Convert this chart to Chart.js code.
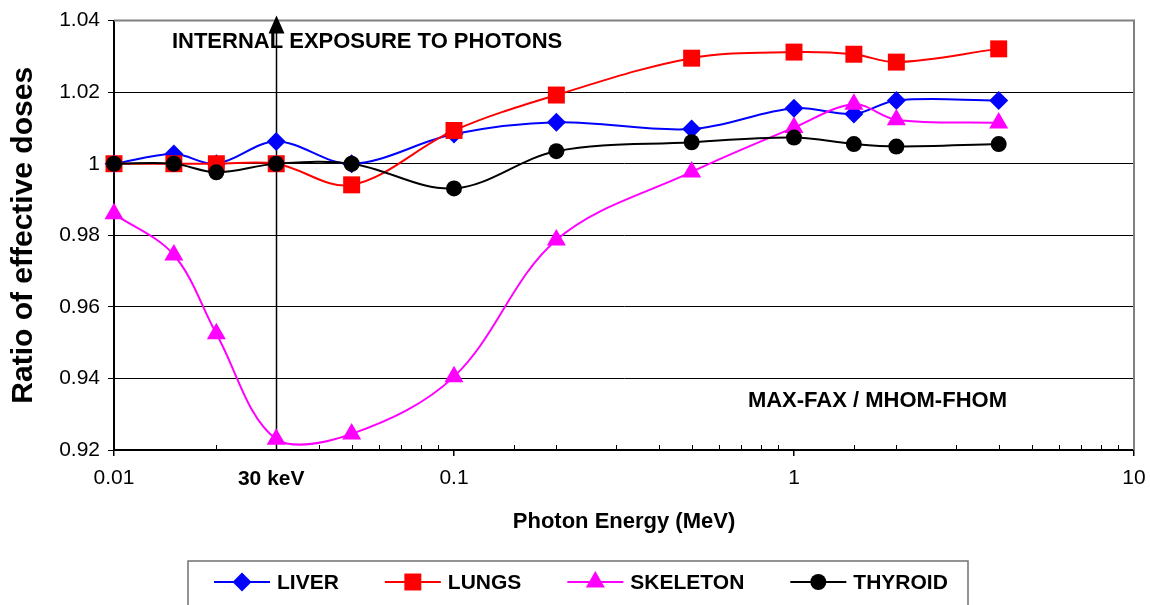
<!DOCTYPE html>
<html>
<head>
<meta charset="utf-8">
<title>Ratio of effective doses</title>
<script src="https://cdn.jsdelivr.net/npm/chart.js@4.4.0/dist/chart.umd.min.js"></script>
<style>
  html, body { margin: 0; padding: 0; background: #fff; }
</style>
</head>
<body>
<canvas id="chart" width="1150" height="605"></canvas>
<script>
// photon energies (MeV) and dose ratios MAX-FAX / MHOM-FHOM
const energies = [0.01, 0.015, 0.02, 0.03, 0.05, 0.1, 0.2, 0.5, 1, 1.5, 2, 4];
const liver    = [1.000, 1.0027, 1.000, 1.0062, 1.000, 1.0083, 1.0116, 1.0097, 1.0155, 1.0139, 1.0177, 1.0177];
const lungs    = [1.000, 1.000, 1.000, 1.000, 0.9941, 1.0093, 1.0192, 1.0295, 1.0312, 1.0306, 1.0284, 1.0321];
const skeleton = [0.986, 0.9745, 0.9525, 0.923, 0.9245, 0.9405, 0.9787, 0.9977, 1.0101, 1.0166, 1.0123, 1.0114];
const thyroid  = [1.000, 1.000, 0.9976, 1.000, 1.000, 0.9931, 1.0035, 1.006, 1.0073, 1.0055, 1.0048, 1.0055];

const seriesNames = ['LIVER', 'LUNGS', 'SKELETON', 'THYROID'];
const yTicks = [0.92, 0.94, 0.96, 0.98, 1, 1.02, 1.04];
const xLabels = [0.01, 0.1, 1, 10];
const markerEnergy = 0.03;

const FONT = "'Liberation Sans', Arial, Helvetica, sans-serif";

const styles = [
    { color: '#0000ff', pointStyle: 'rectRot', radius: 9.5 },
    { color: '#ff0000', pointStyle: 'rect', radius: 12 },
    { color: '#ff00ff', pointStyle: 'triangle', radius: 11 },
    { color: '#000000', pointStyle: 'circle', radius: 8 }
];

const isDecade = v => Math.abs(Math.log10(v) - Math.round(Math.log10(v))) < 1e-6;

function makeDataset(name, values, i) {
    const s = styles[i];
    return {
        label: name,
        data: energies.map((e, k) => ({ x: e, y: values[k] })),
        borderColor: s.color,
        backgroundColor: s.color,
        borderWidth: 2,
        pointStyle: s.pointStyle,
        pointRadius: s.radius,
        pointHoverRadius: s.radius,
        pointBorderWidth: 0,
        tension: 0.35,
        clip: false,
        order: 3 - i
    };
}

// vertical 30 keV marker, frame, minor ticks, texts and legend box
const decorPlugin = {
    id: 'decor',
    beforeDatasetsDraw(chart) {
        const { ctx, chartArea: a, scales: { x } } = chart;
        ctx.save();
        // top and right frame
        ctx.strokeStyle = '#808080';
        ctx.lineWidth = 2;
        ctx.beginPath();
        ctx.moveTo(a.left, a.top);
        ctx.lineTo(a.right, a.top);
        ctx.lineTo(a.right, a.bottom);
        ctx.stroke();
        // minor ticks inside the plot
        ctx.strokeStyle = '#000';
        ctx.lineWidth = 1;
        x.ticks.forEach(t => {
            if (isDecade(t.value)) return;
            const px = Math.round(x.getPixelForValue(t.value)) + 0.5;
            ctx.beginPath();
            ctx.moveTo(px, a.bottom);
            ctx.lineTo(px, a.bottom - 5);
            ctx.stroke();
        });
        // arrow at 30 keV
        const ax = Math.round(x.getPixelForValue(markerEnergy)) + 0.5;
        ctx.lineWidth = 1.5;
        ctx.beginPath();
        ctx.moveTo(ax, a.bottom);
        ctx.lineTo(ax, a.top + 12);
        ctx.stroke();
        ctx.fillStyle = '#000';
        ctx.beginPath();
        ctx.moveTo(ax, a.top - 5);
        ctx.lineTo(ax - 8, a.top + 13);
        ctx.lineTo(ax + 8, a.top + 13);
        ctx.closePath();
        ctx.fill();
        ctx.restore();
    },
    afterDraw(chart) {
        const { ctx, chartArea: a, scales: { x, y } } = chart;
        ctx.save();
        ctx.fillStyle = '#000';
        ctx.textBaseline = 'middle';

        ctx.font = 'bold 22px ' + FONT;
        ctx.textAlign = 'left';
        ctx.fillText('INTERNAL EXPOSURE TO PHOTONS', x.getPixelForValue(0.0148), y.getPixelForValue(1.034));
        ctx.textAlign = 'right';
        ctx.fillText('MAX-FAX / MHOM-FHOM', x.getPixelForValue(4.23), y.getPixelForValue(0.9338));

        ctx.font = 'bold 21px ' + FONT;
        ctx.textAlign = 'center';
        ctx.fillText('30 keV', x.getPixelForValue(markerEnergy) - 5, a.bottom + 29);

        // legend
        const boxLeft = 188, boxTop = 561, boxWidth = 780;
        ctx.strokeStyle = '#707070';
        ctx.lineWidth = 1.5;
        ctx.strokeRect(boxLeft, boxTop, boxWidth, 60);
        ctx.font = 'bold 21px ' + FONT;
        ctx.textAlign = 'left';
        const ly = boxTop + 21;
        let lx = boxLeft + 26;
        seriesNames.forEach((name, i) => {
            const s = styles[i];
            ctx.strokeStyle = s.color;
            ctx.fillStyle = s.color;
            ctx.lineWidth = 2;
            ctx.beginPath();
            ctx.moveTo(lx, ly);
            ctx.lineTo(lx + 56, ly);
            ctx.stroke();
            Chart.helpers.drawPoint(ctx, { pointStyle: s.pointStyle, radius: s.radius, rotation: 0, borderWidth: 0 }, lx + 28, ly);
            ctx.fillStyle = '#000';
            ctx.fillText(name, lx + 63, ly + 1);
            lx += 63 + ctx.measureText(name).width + 46;
        });
        ctx.restore();
    }
};

const chart = new Chart(document.getElementById('chart'), {
    type: 'line',
    data: {
        datasets: [
            makeDataset(seriesNames[0], liver, 0),
            makeDataset(seriesNames[1], lungs, 1),
            makeDataset(seriesNames[2], skeleton, 2),
            makeDataset(seriesNames[3], thyroid, 3)
        ]
    },
    options: {
        responsive: false,
        animation: false,
        devicePixelRatio: 1,
        layout: { padding: { left: 0, right: 16, top: 20, bottom: 65 } },
        plugins: {
            legend: { display: false },
            tooltip: { enabled: false }
        },
        scales: {
            x: {
                type: 'logarithmic',
                min: 0.01,
                max: 10,
                afterFit: s => { s.height = 90; s.paddingRight = 0; s.paddingLeft = 0; },
                grid: {
                    drawOnChartArea: false,
                    tickLength: 6,
                    lineWidth: 1.5,
                    color: c => (c.tick && isDecade(c.tick.value)) ? '#000' : 'rgba(0,0,0,0)'
                },
                border: { color: '#000', width: 2 },
                ticks: {
                    autoSkip: false,
                    maxRotation: 0,
                    padding: 10,
                    color: '#000',
                    font: { family: FONT, size: 21 },
                    callback: v => {
                        const l = xLabels.find(l => Math.abs(Math.log10(v) - Math.log10(l)) < 1e-6);
                        return l === undefined ? '' : String(l);
                    }
                },
                title: {
                    display: true,
                    text: 'Photon Energy (MeV)',
                    color: '#000',
                    font: { family: FONT, size: 22, weight: 'bold' },
                    padding: { top: 0, bottom: 5 }
                }
            },
            y: {
                min: 0.92,
                max: 1.04,
                afterFit: s => { s.width = 114; },
                afterBuildTicks: s => { s.ticks = yTicks.map(v => ({ value: v })); },
                grid: { color: '#000', lineWidth: 1, tickLength: 6 },
                border: { color: '#000', width: 2 },
                ticks: {
                    padding: 8,
                    color: '#000',
                    font: { family: FONT, size: 21 },
                    callback: v => String(Number(v.toFixed(2)))
                },
                title: {
                    display: true,
                    text: 'Ratio of effective doses',
                    color: '#000',
                    font: { family: FONT, size: 30, weight: 'bold' },
                    padding: { top: 6, bottom: 0 }
                }
            }
        }
    },
    plugins: [decorPlugin]
});
</script>
</body>
</html>
